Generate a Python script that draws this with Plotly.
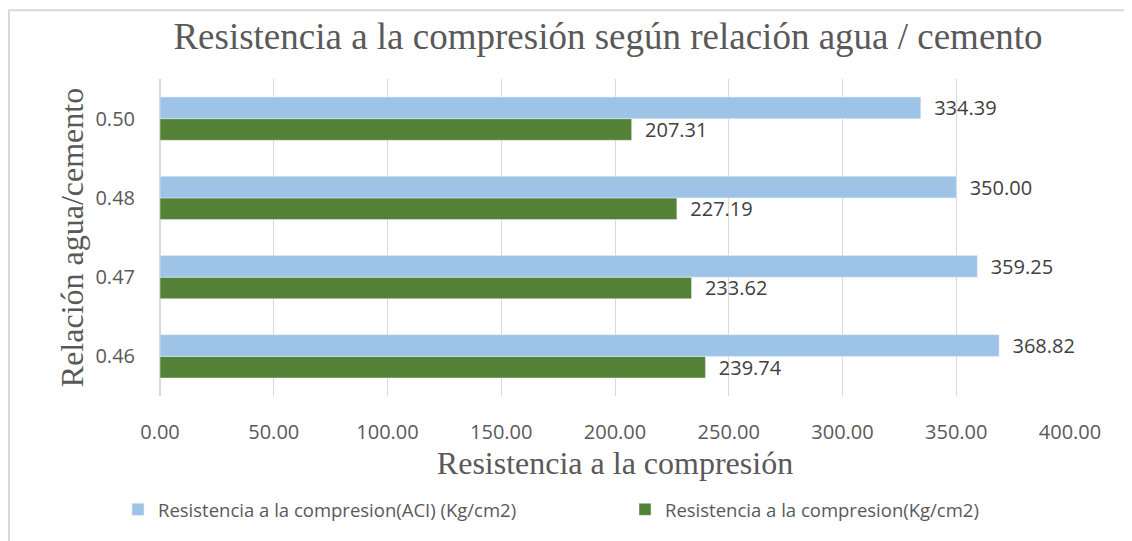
import plotly.graph_objects as go

# Data
relaciones = ["0.46", "0.47", "0.48", "0.50"]
resistencia_aci = [368.82, 359.25, 350.00, 334.39]
resistencia_real = [239.74, 233.62, 227.19, 207.31]

nombre_aci = "Resistencia a la compresion(ACI) (Kg/cm2)"
nombre_real = "Resistencia a la compresion(Kg/cm2)"

sans = "Open Sans, Noto Sans, sans-serif"
serif = "Liberation Serif, Times New Roman, serif"

# the page body has an 8px margin, so the figure is 8px smaller each way
FW, FH = 1124, 533
# plot area in figure pixels
L, T, W, H = 152, 71, 910, 323

fig = go.Figure()

# green first so it lands in the lower slot of each group
fig.add_trace(go.Bar(
    y=relaciones,
    x=resistencia_real,
    orientation="h",
    name=nombre_real,
    marker=dict(color="#538135"),
    texttemplate="\u00a0\u00a0%{x:.2f}",
    textposition="outside",
    constraintext="none",
    textfont=dict(family=sans, size=20, color="#404040"),
    cliponaxis=False,
))
fig.add_trace(go.Bar(
    y=relaciones,
    x=resistencia_aci,
    orientation="h",
    name=nombre_aci,
    marker=dict(color="#9dc3e6"),
    texttemplate="\u00a0\u00a0%{x:.2f}",
    textposition="outside",
    constraintext="none",
    textfont=dict(family=sans, size=20, color="#404040"),
    cliponaxis=False,
))

fig.update_layout(
    width=FW,
    height=FH,
    paper_bgcolor="white",
    plot_bgcolor="white",
    barmode="group",
    bargap=0.455,
    bargroupgap=0,
    margin=dict(l=L, r=FW - L - W, t=T, b=FH - T - H),
    title=dict(
        text="Resistencia a la compresión según relación agua / cemento",
        font=dict(family=serif, size=37, color="#595959"),
        xref="container", x=600 / FW, xanchor="center",
        yref="container", y=1 - 28 / FH, yanchor="middle",
    ),
    xaxis=dict(
        range=[0, 400],
        dtick=50,
        tickformat=".2f",
        showgrid=True,
        gridcolor="#d9d9d9",
        gridwidth=1,
        zeroline=True,
        zerolinecolor="#d9d9d9",
        showline=False,
        ticks="",
        automargin=False,
        ticklabelstandoff=22,
        tickfont=dict(family=sans, size=20, color="#595959"),
        title=dict(
            text="Resistencia a la compresión",
            font=dict(family=serif, size=32, color="#595959"),
            standoff=0,
        ),
    ),
    yaxis=dict(
        type="category",
        categoryorder="array",
        categoryarray=relaciones,
        showgrid=False,
        showline=False,
        ticks="",
        automargin=False,
        ticklabelstandoff=24,
        tickfont=dict(family=sans, size=20, color="#595959"),
        title=dict(
            text="Relación agua/cemento",
            font=dict(family=serif, size=32, color="#595959"),
            standoff=2,
        ),
    ),
    legend=dict(
        orientation="h",
        traceorder="reversed",
        x=(120 - L) / W, xanchor="left",
        y=(T + H - 510) / H, yanchor="middle",
        font=dict(family=sans, size=18.5, color="#595959"),
        entrywidth=462,
    ),
    shapes=[dict(
        type="rect", xref="paper", yref="paper",
        x0=(1 - L) / W, x1=(FW + 20 - L) / W,
        y0=(T + H - FH - 20) / H, y1=(T + H - 1) / H,
        line=dict(color="#d9d9d9", width=2),
        fillcolor="rgba(0,0,0,0)",
        layer="below",
    )],
)

fig.write_html("out.html")
